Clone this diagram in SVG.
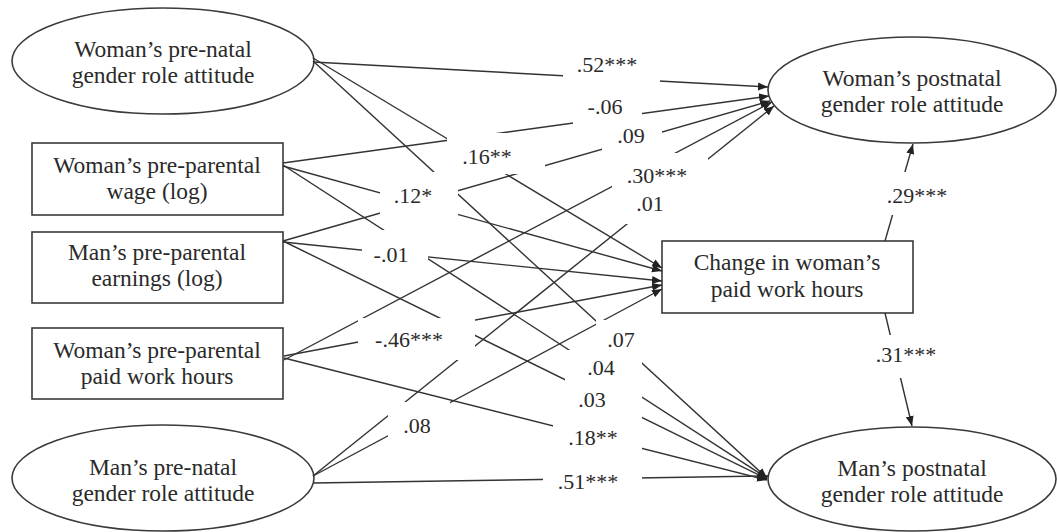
<svg xmlns="http://www.w3.org/2000/svg" width="1057" height="532" viewBox="0 0 1057 532">
<style>
.node{fill:#fff;stroke:#3a3a3a;stroke-width:1.6}
.nt{font-family:"Liberation Serif","Times New Roman",serif;font-size:23.5px;fill:#2a2a2a;text-anchor:middle}
.ln{stroke:#333;stroke-width:1.4;fill:none}
.lb{font-family:"Liberation Serif","Times New Roman",serif;font-size:22px;fill:#2a2a2a;text-anchor:middle}
.bg{fill:#fff;stroke:none}
</style>
<defs>
<marker id="arr" markerWidth="11" markerHeight="9" refX="10" refY="4" orient="auto" markerUnits="userSpaceOnUse"><path d="M0,0 L10,4 L0,8 z" fill="#222"/></marker>
</defs>
<rect width="1057" height="532" fill="#fff"/>
<g id="n-wpn"><ellipse class="node" cx="163" cy="61" rx="151" ry="53"/><text class="nt" x="163" y="57">Woman’s pre-natal</text><text class="nt" x="163" y="83">gender role attitude</text></g>
<g id="n-wage"><rect class="node" x="32" y="143" width="251" height="72"/><text class="nt" x="157" y="173">Woman’s pre-parental</text><text class="nt" x="157" y="199">wage (log)</text></g>
<g id="n-earn"><rect class="node" x="32" y="232" width="251" height="71"/><text class="nt" x="157" y="260">Man’s pre-parental</text><text class="nt" x="157" y="286">earnings (log)</text></g>
<g id="n-hours"><rect class="node" x="32" y="328" width="251" height="71"/><text class="nt" x="157" y="358">Woman’s pre-parental</text><text class="nt" x="157" y="384">paid work hours</text></g>
<g id="n-mpn"><ellipse class="node" cx="163" cy="478" rx="151" ry="53"/><text class="nt" x="163" y="475">Man’s pre-natal</text><text class="nt" x="163" y="501">gender role attitude</text></g>
<g id="n-change"><rect class="node" x="662" y="241" width="251" height="72"/><text class="nt" x="787" y="270">Change in woman’s</text><text class="nt" x="787" y="297">paid work hours</text></g>
<g id="n-wpost"><ellipse class="node" cx="912" cy="90" rx="144" ry="53"/><text class="nt" x="912" y="86">Woman’s postnatal</text><text class="nt" x="912" y="112">gender role attitude</text></g>
<g id="n-mpost"><ellipse class="node" cx="912" cy="479" rx="144" ry="52"/><text class="nt" x="912" y="476">Man’s postnatal</text><text class="nt" x="912" y="502">gender role attitude</text></g>
<g id="connectors">
<path class="ln" marker-end="url(#arr)" d="M313,62 L768,87"/>
<path class="ln" marker-end="url(#arr)" d="M283,163 L769,96"/>
<path class="ln" marker-end="url(#arr)" d="M283,241 L770,101"/>
<path class="ln" marker-end="url(#arr)" d="M284,360 L772,102"/>
<path class="ln" marker-end="url(#arr)" d="M313,476 L774,106"/>
<path class="ln" marker-end="url(#arr)" d="M313,61 L767,478"/>
<path class="ln" marker-end="url(#arr)" d="M283,165 L767,478"/>
<path class="ln" marker-end="url(#arr)" d="M283,241 L767,479"/>
<path class="ln" marker-end="url(#arr)" d="M284,358 L767,480"/>
<path class="ln" marker-end="url(#arr)" d="M313,483 L768,476"/>
<path class="ln" marker-end="url(#arr)" d="M313,58 L662,268"/>
<path class="ln" marker-end="url(#arr)" d="M283,166 L662,271"/>
<path class="ln" marker-end="url(#arr)" d="M283,242 L662,281"/>
<path class="ln" marker-end="url(#arr)" d="M284,356 L662,285"/>
<path class="ln" marker-end="url(#arr)" d="M313,476 L662,289"/>
<path class="ln" marker-end="url(#arr)" d="M885,241 L913,144"/>
<path class="ln" marker-end="url(#arr)" d="M885,313 L912,426"/>
</g>
<g id="labels">
<rect class="bg" x="563" y="50" width="97" height="35"/>
<rect class="bg" x="573" y="92" width="69" height="33"/>
<rect class="bg" x="602" y="126" width="60" height="26"/>
<rect class="bg" x="447" y="133" width="98" height="41"/>
<rect class="bg" x="612" y="153" width="96" height="39"/>
<rect class="bg" x="380" y="172" width="78" height="43"/>
<rect class="bg" x="625" y="192" width="60" height="32"/>
<rect class="bg" x="362" y="230" width="66" height="45"/>
<rect class="bg" x="358" y="318" width="117" height="42"/>
<rect class="bg" x="596" y="320" width="52" height="30"/>
<rect class="bg" x="565" y="350" width="77" height="44"/>
<rect class="bg" x="575" y="394" width="67" height="30"/>
<rect class="bg" x="388" y="402" width="62" height="48"/>
<rect class="bg" x="553" y="424" width="89" height="31"/>
<rect class="bg" x="543" y="462" width="99" height="33"/>
<rect class="bg" x="882" y="172" width="73" height="43"/>
<rect class="bg" x="870" y="335" width="75" height="43"/>
<text class="lb" x="607" y="72">.52***</text>
<text class="lb" x="605" y="114">-.06</text>
<text class="lb" x="631" y="143">.09</text>
<text class="lb" x="487" y="164">.16**</text>
<text class="lb" x="657" y="183">.30***</text>
<text class="lb" x="413" y="203">.12*</text>
<text class="lb" x="650" y="211">.01</text>
<text class="lb" x="391" y="262">-.01</text>
<text class="lb" x="409" y="347">-.46***</text>
<text class="lb" x="621" y="347">.07</text>
<text class="lb" x="601" y="375">.04</text>
<text class="lb" x="592" y="407">.03</text>
<text class="lb" x="417" y="433">.08</text>
<text class="lb" x="593" y="445">.18**</text>
<text class="lb" x="588" y="489">.51***</text>
<text class="lb" x="917" y="203">.29***</text>
<text class="lb" x="906" y="362">.31***</text>
</g>
</svg>
